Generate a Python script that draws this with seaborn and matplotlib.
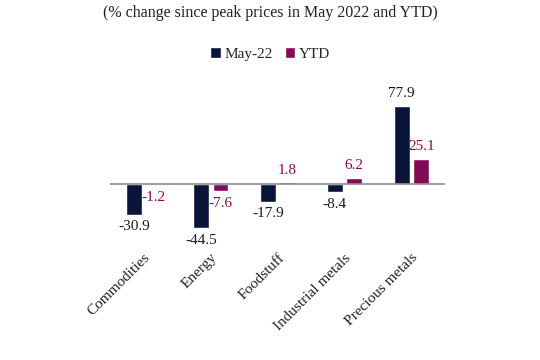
import numpy as np
import pandas as pd
import seaborn as sns
from matplotlib import pyplot as plt

categories = ['Commodities', 'Energy', 'Foodstuff', 'Industrial metals', 'Precious metals']
may22 = [-30.9, -44.5, -17.9, -8.4, 77.9]
ytd = [-1.2, -7.6, 1.8, 6.2, 25.1]
series = ['May-22', 'YTD']
colors = ['#0a1438', '#850a55']

df = pd.DataFrame({
    'cat': categories * 2,
    'val': may22 + ytd,
    'series': ['May-22'] * len(categories) + ['YTD'] * len(categories),
})

sns.set_style('white')
plt.rcParams['font.family'] = ['Liberation Serif', 'DejaVu Serif']

fig = plt.figure(figsize=(5.4, 3.6), dpi=100)
ax = fig.add_axes([0.204, 0.306, 0.62, 0.447])

sns.barplot(data=df, x='cat', y='val', hue='series', palette=colors, saturation=1,
            width=0.58, gap=0.2, ax=ax, legend=True)

for cont, col in zip(ax.containers, ['#1a1a2e', '#8a0b4f']):
    ax.bar_label(cont, fmt='%.1f', padding=4, fontsize=11, color=col)

ax.axhline(0, color='#8c8c8c', lw=1.2)
ax.set_xlim(-0.5, 4.5)
ax.set_ylim(-66, 95)
ax.set_xlabel('')
ax.set_ylabel('')
ax.set_yticks([])
ax.tick_params(axis='x', length=0, pad=1)
plt.setp(ax.get_xticklabels(), rotation=45, ha='right', rotation_mode='anchor',
         fontsize=11, color='#222222')
sns.despine(ax=ax, left=True, bottom=True)

h, l = ax.get_legend_handles_labels()
ax.get_legend().remove()
fig.legend(h, l, loc='center', bbox_to_anchor=(0.5, 0.85), ncol=2, frameon=False,
           fontsize=11, handlelength=0.7, handleheight=0.7, handletextpad=0.2,
           columnspacing=0.8)
fig.text(0.5, 0.965, '(% change since peak prices in May 2022 and YTD)',
         ha='center', va='center', fontsize=11.5, color='#222222')

fig.savefig('out.png', dpi=100)
